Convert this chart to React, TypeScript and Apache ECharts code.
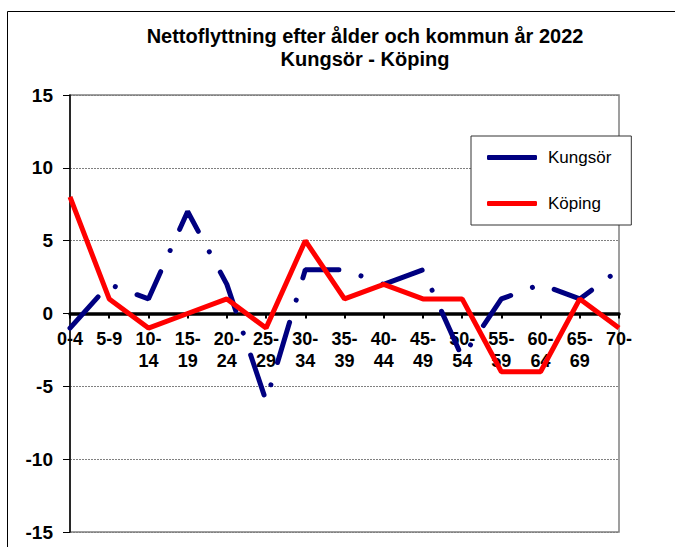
import React, { useEffect, useRef } from "react";
import * as echarts from "echarts";

const categories = ["0-4", "5-9", "10-14", "15-19", "20-24", "25-29", "30-34", "35-39", "40-44", "45-49", "50-54", "55-59", "60-64", "65-69", "70-"];
const kungsor = [-1, 2, 1, 7, 2, -6, 3, 3, 2, 3, -3, 1, 2, 1, 3];
const koping = [8, 1, -1, 0, 1, -1, 5, 1, 2, 1, 1, -4, -4, 1, -1];
const titleLines = ["Nettoflyttning efter ålder och kommun år 2022", "Kungsör - Köping"];
const seriesNames = ["Kungsör", "Köping"];

const FONT = "Arial, 'Liberation Sans', sans-serif";

export default function App() {
  const ref = useRef<HTMLDivElement>(null);
  useEffect(() => {
    document.body.style.margin = "0";
    const chart = echarts.init(ref.current!, null, { renderer: "svg" });
    const gridTop = 95;
    const gridBottom = 15;
    const H = 547;
    const plotH = H - gridTop - gridBottom;
    const zeroY = gridTop + plotH / 2;
    chart.setOption({
      animation: false,
      backgroundColor: "#fff",
      title: {
        text: titleLines.join("\n"),
        left: 365,
        top: 24,
        padding: 0,
        textAlign: "center",
        textStyle: { fontFamily: FONT, fontSize: 20, fontWeight: "bold", color: "#000", lineHeight: 23 },
      },
      graphic: [
        {
          type: "rect",
          shape: { x: 7.5, y: 11.5, width: 700, height: 600 },
          style: { fill: "none", stroke: "#000", lineWidth: 1 },
          silent: true,
          z: -10,
        },
      ],
      legend: {
        orient: "vertical",
        left: 471,
        top: 136,
        padding: [13, 20, 13, 16],
        itemGap: 29,
        itemWidth: 50,
        itemHeight: 5,
        borderColor: "#333",
        borderWidth: 1,
        backgroundColor: "#fff",
        icon: "roundRect",
        textStyle: { fontFamily: FONT, fontSize: 17, color: "#000", padding: [0, 0, 0, 6] },
        data: seriesNames,
      },
      grid: [
        { left: 70, top: gridTop, right: 56, bottom: gridBottom, show: true, borderColor: "#808080", borderWidth: 1.5, backgroundColor: "#fff" },
        { left: 70, top: gridTop, right: 56, bottom: H - zeroY, show: false },
      ],
      xAxis: [
        {
          type: "category",
          gridIndex: 0,
          data: categories,
          boundaryGap: false,
          axisLine: { show: false },
          axisTick: { show: false },
          axisLabel: { show: false },
          splitLine: { show: false },
        },
        {
          type: "category",
          gridIndex: 1,
          data: categories,
          boundaryGap: false,
          position: "bottom",
          axisLine: { show: true, onZero: false, lineStyle: { color: "#000", width: 3.5 } },
          axisTick: { show: true, interval: 0, length: 5, lineStyle: { color: "#000", width: 2 } },
          axisLabel: {
            interval: 0,
            margin: 14,
            fontFamily: FONT,
            fontSize: 18,
            fontWeight: "bold",
            color: "#000",
            lineHeight: 22,
            formatter: (v: string) => (v.length > 3 ? v.replace("-", "-\n") : v),
          },
          splitLine: { show: false },
        },
      ],
      yAxis: [
        {
          type: "value",
          gridIndex: 0,
          min: -15,
          max: 15,
          interval: 5,
          axisLine: { show: true, lineStyle: { color: "#000", width: 1.5 } },
          axisTick: { show: true, length: 7, lineStyle: { color: "#000", width: 1 } },
          axisLabel: { margin: 17, fontFamily: FONT, fontSize: 19, fontWeight: "bold", color: "#000" },
          splitLine: { show: true, lineStyle: { color: "#808080", width: 1, type: [2, 1] } },
        },
        {
          type: "value",
          gridIndex: 1,
          min: 0,
          max: 15,
          interval: 5,
          show: false,
        },
      ],
      series: [
        {
          name: seriesNames[0],
          type: "line",
          data: kungsor,
          symbol: "none",
          color: "#000080",
          lineStyle: { color: "#000080", width: 5, type: [42, 23.2, 0.01, 23.2], cap: "round" },
          z: 3,
        },
        {
          name: seriesNames[1],
          type: "line",
          data: koping,
          symbol: "none",
          color: "#ff0000",
          lineStyle: { color: "#ff0000", width: 5 },
          z: 4,
        },
      ],
    });
    return () => chart.dispose();
  }, []);
  return <div ref={ref} style={{ width: 675, height: 547 }} />;
}
